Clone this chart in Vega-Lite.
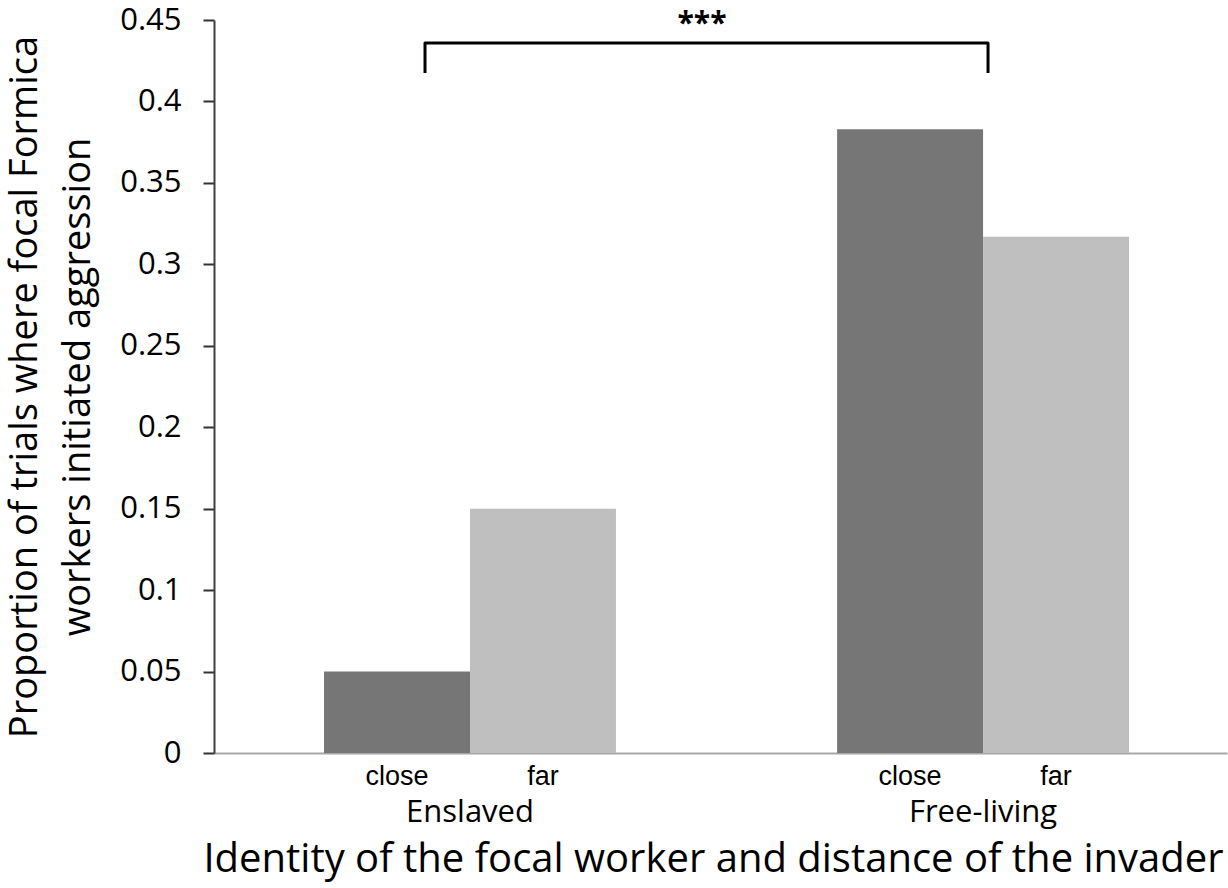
{
  "$schema": "https://vega.github.io/schema/vega-lite/v6.json",
  "autosize": "none",
  "padding": {"left": 214, "top": 20, "right": 1, "bottom": 135},
  "width": 1013,
  "height": 733,
  "background": "white",
  "config": {
    "view": {"stroke": null},
    "font": "Open Sans"
  },
  "layer": [
    {
      "data": {
        "values": [
          {"group": "Enslaved", "distance": "close", "proportion": 0.05},
          {"group": "Enslaved", "distance": "far", "proportion": 0.15},
          {"group": "Free-living", "distance": "close", "proportion": 0.383},
          {"group": "Free-living", "distance": "far", "proportion": 0.317}
        ]
      },
      "encoding": {
        "x": {
          "field": "group",
          "type": "nominal",
          "sort": ["Enslaved", "Free-living"],
          "scale": {"paddingInner": 0.431, "paddingOuter": 0.2027, "align": 0.529},
          "axis": {
            "title": "Identity of the focal worker and distance of the invader",
            "titleFont": "Open Sans",
            "titleFontSize": 40,
            "titleFontWeight": "normal",
            "titleColor": "black",
            "titlePadding": 12,
            "titleX": 499,
            "titleAlign": "center",
            "labelFont": "Open Sans",
            "labelFontSize": 31,
            "labelColor": "black",
            "labelPadding": 44,
            "labelAngle": 0,
            "ticks": false,
            "domainColor": "#a6a6a6",
            "domainWidth": 2,
            "grid": false
          }
        },
        "xOffset": {"field": "distance", "type": "nominal", "sort": ["close", "far"], "scale": {"paddingInner": 0, "paddingOuter": 0}}
      },
      "layer": [
        {
          "mark": {"type": "bar"},
          "encoding": {
            "y": {
              "field": "proportion",
              "type": "quantitative",
              "scale": {"domain": [0, 0.45], "nice": false},
              "axis": {
                "values": [0, 0.05, 0.1, 0.15, 0.2, 0.25, 0.3, 0.35, 0.4, 0.45],
                "format": "~g",
                "grid": false,
                "title": ["Proportion of trials where focal Formica", "workers initiated aggression"],
                "titleFont": "Open Sans",
                "titleFontSize": 38,
                "titleFontWeight": "normal",
                "titleColor": "black",
                "titleLineHeight": 53,
                "titlePadding": 22,
                "labelFont": "Open Sans",
                "labelFontSize": 31,
                "labelColor": "black",
                "labelPadding": 22,
                "tickSize": 11,
                "tickColor": "#333333",
                "tickWidth": 2,
                "domainColor": "#404040",
                "domainWidth": 2
              }
            },
            "color": {
              "field": "distance",
              "type": "nominal",
              "scale": {"domain": ["close", "far"], "range": ["#767676", "#bfbfbf"]},
              "legend": null
            }
          }
        },
        {
          "mark": {"type": "text", "font": "Liberation Sans", "fontSize": 27, "baseline": "alphabetic", "align": "center", "dy": 32, "color": "black"},
          "encoding": {
            "y": {"datum": 0},
            "text": {"field": "distance"}
          }
        }
      ]
    },
    {
      "data": {
        "values": [
          {"pos": 0.2083, "level": 0.4175, "step": 1},
          {"pos": 0.2083, "level": 0.4359, "step": 2},
          {"pos": 0.7641, "level": 0.4359, "step": 3},
          {"pos": 0.7641, "level": 0.4175, "step": 4}
        ]
      },
      "layer": [
        {
          "mark": {"type": "line", "color": "black", "strokeWidth": 3, "strokeJoin": "round", "clip": false},
          "encoding": {
            "x": {"field": "pos", "type": "quantitative", "scale": {"domain": [0, 1], "nice": false}, "axis": null},
            "y": {"field": "level", "type": "quantitative"},
            "order": {"field": "step", "type": "quantitative"}
          }
        },
        {
          "data": {"values": [{"pos": 0.4817, "level": 0.442, "label": "***"}]},
          "mark": {"type": "text", "font": "Open Sans", "fontSize": 30, "fontWeight": "bold", "baseline": "alphabetic", "align": "center", "color": "black"},
          "encoding": {
            "x": {"field": "pos", "type": "quantitative", "scale": {"domain": [0, 1], "nice": false}, "axis": null},
            "y": {"field": "level", "type": "quantitative"},
            "text": {"field": "label"}
          }
        }
      ]
    }
  ],
  "resolve": {"scale": {"x": "independent"}}
}
